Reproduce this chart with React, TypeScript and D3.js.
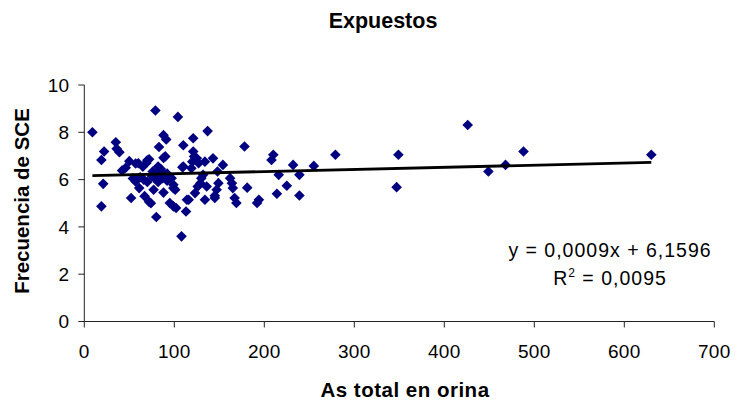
import React from "react";
import * as d3 from "d3";

// As total en orina (x) and Frecuencia de SCE (y) for each exposed subject
const asTotal: number[] = [
  9, 19, 22, 21, 19, 35, 36, 39, 42, 46, 50, 52, 54, 57, 57, 56, 61, 60, 65, 67,
  69, 70, 72, 72, 74, 76, 77, 78, 79, 80, 82, 83, 84, 86, 87, 88, 88, 88, 90, 91,
  92, 94, 95, 97, 99, 99, 99, 101, 102, 104, 108, 109, 110, 110, 113, 114, 116, 119, 121, 121,
  122, 120, 123, 125, 126, 127, 129, 130, 132, 134, 134, 136, 137, 143, 145, 145, 147, 148, 149, 154,
  162, 164, 165, 167, 169, 178, 181, 192, 194, 208, 210, 214, 216, 225, 232, 239, 239, 255, 279, 347,
  349, 426, 449, 468, 488, 630, 80, 85, 90, 75, 82, 92, 66, 70, 62,
];
const sceFreq: number[] = [
  8.0, 6.83, 7.19, 5.82, 4.87, 7.58, 7.3, 7.16, 6.38, 6.5, 6.78, 5.22, 6.05, 6.68, 5.92, 6.0, 5.64, 6.69, 6.55, 5.3,
  6.7, 6.82, 6.86, 5.06, 5.0, 6.34, 5.57, 6.06, 8.92, 4.42, 6.55, 7.38, 6.2, 6.34, 6.06, 7.88, 6.92, 5.45, 6.98, 7.7,
  6.25, 6.1, 5.01, 6.06, 5.64, 4.87, 5.78, 5.57, 4.8, 8.65, 3.6, 6.52, 7.45, 6.55, 4.65, 5.15, 5.15, 6.48, 7.75, 7.19,
  6.98, 6.76, 5.43, 6.9, 5.71, 6.69, 5.85, 6.06, 6.2, 6.76, 5.15, 5.71, 8.05, 6.9, 5.22, 5.32, 5.57, 6.34, 5.85, 6.62,
  6.06, 5.85, 5.64, 5.22, 5.01, 7.4, 5.66, 5.01, 5.15, 6.83, 7.05, 5.4, 6.2, 5.74, 6.62, 6.2, 5.33, 6.58, 7.05, 5.68,
  7.05, 8.31, 6.34, 6.62, 7.19, 7.05, 6.25, 6.45, 6.15, 6.15, 5.9, 5.95, 6.0, 5.9, 6.1,
];

// Linear trend reported on the chart
const slope = 0.0009;
const intercept = 6.1596;
const rSquared = 0.0095;

const xTicks: number[] = [0, 100, 200, 300, 400, 500, 600, 700];
const yTicks: number[] = [0, 2, 4, 6, 8, 10];

const fmt = (v: number, digits: number) => v.toFixed(digits).replace(".", ",");

export default function App() {
  const width = 742;
  const height = 403;
  const font = "Arial, 'Liberation Sans', sans-serif";

  const x = d3.scaleLinear().domain([0, 700]).range([84.3, 714.3]);
  const y = d3.scaleLinear().domain([0, 10]).range([321.5, 85]);

  const points = asTotal.map((v, i) => ({ x: v, y: sceFreq[i] }));
  const diamond = d3.symbol().type(d3.symbolDiamond2).size(72)();

  const [xMin, xMax] = d3.extent(asTotal) as [number, number];
  const trend = d3
    .line<number>()
    .x((v) => x(v))
    .y((v) => y(slope * v + intercept))([xMin, xMax]);

  const axisColor = "#222";

  return (
    <svg
      width={width}
      height={height}
      style={{ position: "absolute", left: 0, top: 0, background: "#fff" }}
    >
      <rect width={width} height={height} fill="#fff" />
      <text
        x={383}
        y={28}
        textAnchor="middle"
        fontFamily={font}
        fontWeight="bold"
        fontSize={21.5}
      >
        Expuestos
      </text>

      {/* axes */}
      <line x1={x(0)} x2={x(0)} y1={y(0)} y2={y(10)} stroke={axisColor} strokeWidth={1} />
      <line x1={x(0)} x2={x(700)} y1={y(0)} y2={y(0)} stroke={axisColor} strokeWidth={1} />
      {yTicks.map((t) => (
        <g key={"y" + t}>
          <line x1={x(0) - 6} x2={x(0)} y1={y(t)} y2={y(t)} stroke={axisColor} />
          <text
            x={69}
            y={y(t) + 6.8}
            textAnchor="end"
            fontFamily={font}
            fontSize={19}
          >
            {t}
          </text>
        </g>
      ))}
      {xTicks.map((t) => (
        <g key={"x" + t}>
          <line x1={x(t)} x2={x(t)} y1={y(0)} y2={y(0) + 6} stroke={axisColor} />
          <text
            x={x(t)}
            y={358}
            textAnchor="middle"
            fontFamily={font}
            fontSize={19}
            letterSpacing={0.3}
          >
            {t}
          </text>
        </g>
      ))}

      <text
        transform="translate(29,201) rotate(-90)"
        textAnchor="middle"
        fontFamily={font}
        fontWeight="bold"
        fontSize={20.5}
      >
        Frecuencia de SCE
      </text>
      <text
        x={405}
        y={397}
        textAnchor="middle"
        fontFamily={font}
        fontWeight="bold"
        fontSize={20.5}
        letterSpacing={0.5}
      >
        As total en orina
      </text>

      {/* observations */}
      {points.map((p, i) => (
        <path
          key={i}
          d={diamond as string}
          transform={`translate(${x(p.x)},${y(p.y)})`}
          fill="#000080"
        />
      ))}

      {/* trend line */}
      <path d={trend as string} stroke="#000" strokeWidth={2.8} fill="none" />

      <text x={610} y={257} textAnchor="middle" fontFamily={font} fontSize={19.5} letterSpacing={1}>
        {`y = ${fmt(slope, 4)}x + ${fmt(intercept, 4)}`}
      </text>
      <text x={610} y={285} textAnchor="middle" fontFamily={font} fontSize={19.5} letterSpacing={1}>
        R
        <tspan dy={-8} fontSize={12}>
          2
        </tspan>
        <tspan dy={8}>{` = ${fmt(rSquared, 4)}`}</tspan>
      </text>
    </svg>
  );
}
